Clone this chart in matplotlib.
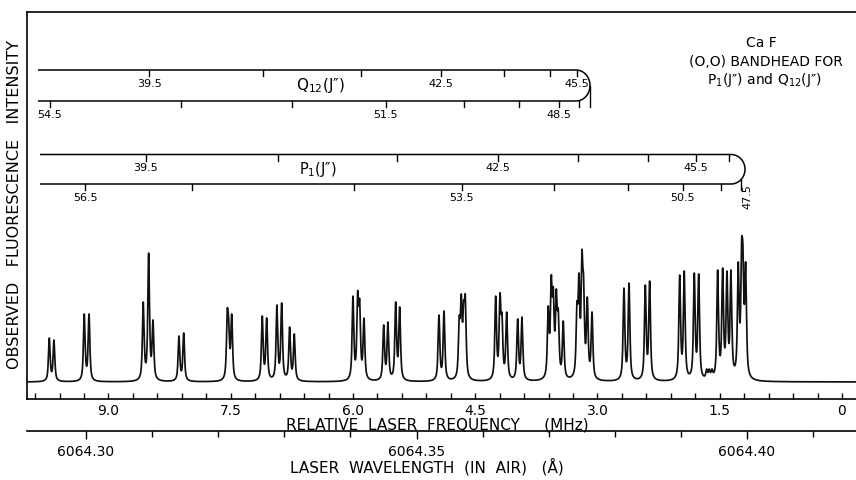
import numpy as np
import matplotlib
matplotlib.use("Agg")
import matplotlib.pyplot as plt

# ---------------- data ----------------
# observed spectral peaks: relative laser frequency (MHz) and height (arb. units)
peak_mhz = [9.726, 9.669, 9.297, 9.239, 8.573, 8.507, 8.454, 8.135, 8.077,
            7.542, 7.525, 7.488, 7.113, 7.059, 6.933, 6.875, 6.777, 6.720,
            6.000, 5.942, 5.918, 5.865, 5.623, 5.571, 5.476, 5.427,
            4.945, 4.883, 4.696, 4.671, 4.642, 4.622, 4.249, 4.196, 4.172, 4.114,
            3.979, 3.926, 3.604, 3.567, 3.542, 3.505, 3.481, 3.420,
            3.252, 3.227, 3.190, 3.170, 3.125, 3.067, 2.675, 2.613, 2.413, 2.360,
            1.991, 1.935, 1.812, 1.758, 1.660, 1.628, 1.595,
            1.525, 1.464, 1.411, 1.362, 1.272, 1.231, 1.215, 1.182]
peak_height = [44, 42, 68, 68, 80, 129, 62, 46, 49,
               73, 63, 68, 66, 64, 77, 79, 55, 48,
               86, 91, 83, 64, 57, 60, 80, 75,
               67, 71, 66, 88, 81, 87, 86, 89, 69, 70,
               63, 65, 76, 107, 95, 93, 73, 61,
               80, 109, 132, 106, 85, 70, 94, 99, 97, 101,
               107, 111, 109, 108, 13, 13, 13,
               112, 114, 111, 112, 120, 142, 136, 120]

# frequency axis ticks
freq_minor_ticks = [round(0.3 * i, 1) for i in range(34)]
freq_label_values = [0, 1.5, 3.0, 4.5, 6.0, 7.5, 9.0]
freq_tick_labels = ["0", "1.5", "3.0", "4.5", "6.0", "7.5", "9.0"]

# wavelength axis ticks (Angstrom)
wl_major = [6064.30, 6064.35, 6064.40]
wl_major_labels = ["6064.30", "6064.35", "6064.40"]
wl_minor = [round(6064.30 + 0.01 * i, 2) for i in range(12)]
wl_limits = (6064.29107, 6064.41649)

# Q12(J'') ladder
q12_upper_J = [39.5, 40.5, 41.5, 42.5, 43.5, 44.5, 45.5]
q12_upper_mhz = [8.499, 7.101, 5.906, 4.920, 4.143, 3.583, 3.252]
q12_lower_J = [46.5, 47.5, 48.5, 49.5, 50.5, 51.5, 52.5, 53.5, 54.5]
q12_lower_mhz = [3.092, 3.227, 3.472, 3.960, 4.634, 5.601, 6.748, 8.110, 9.718]
q12_labeled = [39.5, 42.5, 45.5, 48.5, 51.5, 54.5]
q12_head_mhz = 3.092
q12_start_mhz = 9.865

# P1(J'') ladder
p1_upper_J = [39.5, 40.5, 41.5, 42.5, 43.5, 44.5, 45.5, 46.5]
p1_upper_mhz = [8.543, 6.916, 5.456, 4.217, 3.236, 2.377, 1.791, 1.383]
p1_lower_J = [47.5, 49.5, 50.5, 51.5, 52.5, 53.5, 54.5, 55.5, 56.5]
p1_lower_mhz = [1.239, 1.485, 1.955, 2.629, 3.530, 4.666, 5.984, 7.975, 9.288]
p1_labeled = [39.5, 42.5, 45.5, 47.5, 50.5, 53.5, 56.5]
p1_head_mhz = 1.190
p1_start_mhz = 9.840

# ---------------- figure ----------------
W, H = 856, 481
PX_PER_MHZ = 81.5
fig = plt.figure(figsize=(W / 100, H / 100), dpi=100)
plt.rcParams['font.family'] = ['DejaVu Sans']
plt.rcParams['mathtext.fontset'] = 'dejavusans'

ax = fig.add_axes([27 / W, 1 - 400 / H, (W - 27) / W, 387 / H])
ax.set_xlim(10.0, -0.172)
ax.set_ylim(-17, 370)
ax.spines['right'].set_visible(False)
for s in ['left', 'top', 'bottom']:
    ax.spines[s].set_linewidth(1.2)
ax.set_yticks([])

# spectrum: line profiles at the read positions, amplitudes scaled so
# that the drawn peak heights match the read heights
f = np.array(peak_mhz)
h = np.array(peak_height, dtype=float)
w = 1.0 / PX_PER_MHZ


def prof(d):
    r = (d / w) ** 2
    return 0.25 * np.exp(-np.log(2) * r) + 0.75 / (1 + r)


M = prof(f[:, None] - f[None, :])
a = h.copy()
for _ in range(300):
    a *= h / (M @ a)
xs = np.linspace(-0.17, 10.0, 12000)
ys = prof(xs[:, None] - f[None, :]) @ a
ax.plot(xs, ys, color='#111111', lw=1.25)

# frequency ticks
ax.set_xticks(freq_label_values)
ax.set_xticklabels(freq_tick_labels)
ax.set_xticks(freq_minor_ticks, minor=True)
ax.tick_params(axis='x', which='both', direction='in', length=4, width=1,
               pad=3, labelsize=10)


# ---------------- ladders ----------------
def ladder(up_J, up_f, lo_J, lo_f, labeled, head, start, y_up, y_lo,
           rot_label=None):
    rx = 14.0 / PX_PER_MHZ
    ry = (y_up - y_lo) / 2.0
    cy = (y_up + y_lo) / 2.0
    cx = head + rx
    th = np.linspace(np.pi / 2, -np.pi / 2, 60)
    arc_x = cx - rx * np.cos(th)
    arc_y = cy + ry * np.sin(th)
    px = np.concatenate([[start], arc_x, [start]])
    py = np.concatenate([[y_up], arc_y, [y_lo]])
    ax.plot(px, py, color='black', lw=1.1, solid_capstyle='butt')
    tick = 6
    for J, x in zip(up_J, up_f):
        ax.plot([x, x], [y_up, y_up - tick], color='black', lw=1.0)
        if J in labeled:
            ax.text(x, y_up - 13, f"{J:.1f}", ha='center', va='center',
                    fontsize=8)
    for J, x in zip(lo_J, lo_f):
        top = y_lo
        if x < cx:
            c = np.clip((cx - x) / rx, -1, 1)
            top = cy - ry * np.sqrt(1 - c ** 2)
        if abs(x - head) < 1e-6:
            top = cy
        ax.plot([x, x], [top, y_lo - tick], color='black', lw=1.0)
        if J in labeled:
            if rot_label == J:
                ax.text(x - 6 / PX_PER_MHZ, y_lo - 12, f"{J:.1f}",
                        ha='center', va='center', fontsize=8, rotation=90)
            else:
                ax.text(x, y_lo - 13, f"{J:.1f}", ha='center', va='center',
                        fontsize=8)


ladder(q12_upper_J, q12_upper_mhz, q12_lower_J, q12_lower_mhz, q12_labeled,
       q12_head_mhz, q12_start_mhz, 312, 281)
ladder(p1_upper_J, p1_upper_mhz, p1_lower_J, p1_lower_mhz, p1_labeled,
       p1_head_mhz, p1_start_mhz, 227.5, 198, rot_label=47.5)

ax.text(6.405, 297, "Q$_{12}$(J\u2033)", ha='center', va='center', fontsize=11)
ax.text(6.43, 213, "P$_{1}$(J\u2033)", ha='center', va='center', fontsize=10.5)

# ---------------- wavelength axis ----------------
ax2 = fig.add_axes([27 / W, 1 - 432 / H, (W - 27) / W, 0.0001])
ax2.set_facecolor('none')
for s in ['left', 'right', 'top']:
    ax2.spines[s].set_visible(False)
ax2.spines['bottom'].set_linewidth(1.2)
ax2.set_yticks([])
ax2.set_xlim(*wl_limits)
ax2.set_xticks(wl_major)
ax2.set_xticklabels(wl_major_labels)
ax2.set_xticks(wl_minor, minor=True)
ax2.tick_params(axis='x', which='major', direction='out', length=6, width=1,
                pad=3, labelsize=10)
ax2.tick_params(axis='x', which='minor', direction='out', length=4, width=1)

# ---------------- texts ----------------
fig.text(437 / W, 1 - 425 / H, "RELATIVE  LASER  FREQUENCY     (MHz)",
         ha='center', va='center', fontsize=11)
fig.text(427 / W, 1 - 467 / H, "LASER  WAVELENGTH  (IN  AIR)   (\u00c5)",
         ha='center', va='center', fontsize=11)
fig.text(15 / W, 1 - 205 / H, "OBSERVED   FLUORESCENCE   INTENSITY",
         ha='center', va='center', rotation=90, fontsize=11.5)
fig.text(761 / W, 1 - 43 / H, "Ca F", ha='center', va='center', fontsize=10)
fig.text(766 / W, 1 - 62 / H, "(O,O) BANDHEAD FOR", ha='center', va='center',
         fontsize=10)
fig.text(764 / W, 1 - 80 / H, "P$_{1}$(J\u2033) and Q$_{12}$(J\u2033)",
         ha='center', va='center', fontsize=10)

fig.savefig("out.png", dpi=100)
